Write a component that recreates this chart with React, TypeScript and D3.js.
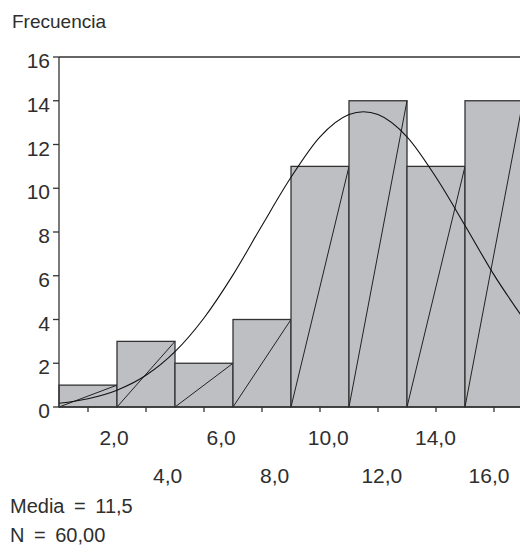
import React from "react";
import * as d3 from "d3";

// Histogram bins (lower edge, upper edge) and counts
const binStarts = [1, 3, 5, 7, 9, 11, 13, 15];
const binWidth = 2;
const counts = [1, 3, 2, 4, 11, 14, 11, 14];

// Normal curve values read at x = 1..17
const curveX = [1, 2, 3, 4, 5, 6, 7, 8, 9, 10, 11, 11.5, 12, 13, 14, 15, 16, 17];
const curveY = [0.17, 0.38, 0.77, 1.45, 2.53, 4.07, 6.04, 8.3, 10.5, 12.35, 13.37, 13.5, 13.37, 12.35, 10.5, 8.3, 6.04, 4.07];

// Axis ticks / labels
const yTicks = [0, 2, 4, 6, 8, 10, 12, 14, 16];
const xTicks = [2, 4, 6, 8, 10, 12, 14, 16];
const xLabelsRow1 = [2, 6, 10, 14];
const xLabelsRow2 = [4, 8, 12, 16];

const yTitle = "Frecuencia";
const statMean = "Media = 11,5";
const statN = "N = 60,00";

const W = 520;
const H = 558;
const FONT = "'Liberation Sans', Arial, sans-serif";
const INK = "#2e2e2e";

export default function App() {
  const x = d3.scaleLinear().domain([1, 17]).range([59, 523]);
  const y = d3.scaleLinear().domain([0, 16]).range([407, 57]);
  const labelX = d3.scaleLinear().domain([2, 16]).range([114, 489]);

  const fmt = (v: number) => v.toFixed(1).replace(".", ",");

  const line = d3
    .line<number>()
    .x((_, i) => x(curveX[i]))
    .y((d) => y(d))
    .curve(d3.curveMonotoneX);

  return (
    <svg
      width={W}
      height={H}
      style={{ position: "absolute", left: 0, top: 0, background: "#fff" }}
    >
      <g fontFamily={FONT} fontSize={20} fill={INK}>
        <text x={12} y={28} fontSize={19}>{yTitle}</text>

        {/* bars */}
        {counts.map((c, i) => {
          const x0 = x(binStarts[i]);
          const x1 = x(binStarts[i] + binWidth);
          return (
            <g key={i}>
              <rect
                x={x0}
                y={y(c)}
                width={x1 - x0}
                height={y(0) - y(c)}
                fill="#bebfc3"
                stroke="#333"
                strokeWidth={1.3}
              />
              <line
                x1={x0}
                y1={y(0)}
                x2={x1}
                y2={y(c)}
                stroke="#222"
                strokeWidth={1}
              />
            </g>
          );
        })}

        {/* normal curve */}
        <path d={line(curveY) || ""} fill="none" stroke="#111" strokeWidth={1.1} />

        {/* frame */}
        <line x1={x(1)} y1={y(16)} x2={W} y2={y(16)} stroke="#333" strokeWidth={1.3} />
        <line x1={x(1)} y1={y(16)} x2={x(1)} y2={y(0)} stroke="#333" strokeWidth={1.3} />
        <line x1={x(1)} y1={y(0)} x2={W} y2={y(0)} stroke="#333" strokeWidth={1.3} />

        {/* y ticks */}
        {yTicks.map((t) => (
          <g key={t}>
            <line x1={x(1) - 6} x2={x(1)} y1={y(t)} y2={y(t)} stroke="#333" strokeWidth={1.3} />
            <text x={50} y={y(t) + 11} textAnchor="end" fontSize={21}>{t}</text>
          </g>
        ))}

        {/* x ticks */}
        {xTicks.map((t) => (
          <line key={t} x1={x(t)} x2={x(t)} y1={y(0)} y2={y(0) + 5} stroke="#333" strokeWidth={1.3} />
        ))}
        {xLabelsRow1.map((t) => (
          <text key={t} x={labelX(t)} y={445} textAnchor="middle" fontSize={21}>{fmt(t)}</text>
        ))}
        {xLabelsRow2.map((t) => (
          <text key={t} x={labelX(t)} y={483} textAnchor="middle" fontSize={21}>{fmt(t)}</text>
        ))}

        <text x={10} y={513} wordSpacing={4}>{statMean}</text>
        <text x={10} y={542} wordSpacing={4}>{statN}</text>
      </g>
    </svg>
  );
}
